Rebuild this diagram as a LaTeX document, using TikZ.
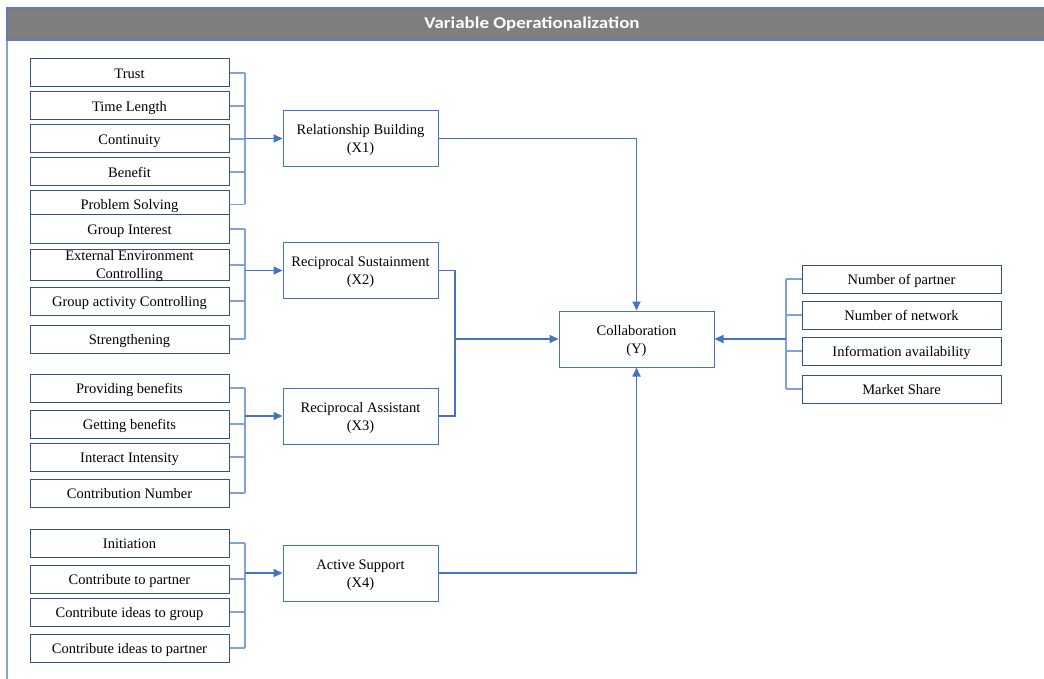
\documentclass[tikz,border=0pt]{standalone}
\usepackage{fontspec}
\setmainfont{Liberation Serif}
\newfontfamily\titlefont[FakeStretch=1.15]{Carlito}
\usetikzlibrary{arrows.meta}
\definecolor{boxdark}{RGB}{52,84,128}
\definecolor{midblue}{RGB}{68,114,196}
\definecolor{lightblue}{RGB}{130,160,218}
\definecolor{titlegray}{RGB}{127,127,127}
\definecolor{titleedge}{RGB}{96,124,176}
\definecolor{frameline}{RGB}{140,162,200}
\tikzset{
  item/.style={draw=boxdark, line width=1pt, fill=white, minimum width=199pt, minimum height=28pt, inner sep=0pt, font=\fontsize{14.5}{16}\selectfont, align=center, text height=12pt, text depth=1.5pt},
  twoline/.style={font=\fontsize{14.5}{18}\selectfont, text height=29pt, text depth=2pt},
  factor/.style={draw=midblue, line width=1pt, fill=white, minimum width=155pt, minimum height=56pt, inner sep=0pt, font=\fontsize{14.5}{18}\selectfont, align=center, text height=30pt, text depth=2pt},
  brk/.style={draw=lightblue, line width=1.3pt},
  conn/.style={draw=midblue, line width=1.3pt},
  arr/.style={draw=midblue, line width=1.7pt, -{Triangle[length=9pt,width=8pt]}},
}
\begin{document}
\begin{tikzpicture}[x=1pt,y=-1pt]
\useasboundingbox (0,0) rectangle (1044,679);
% title bar and frame
\draw[frameline, line width=1.2pt] (7,40) -- (7,679);
\fill[titlegray] (7,8) rectangle (1044,40);
\draw[titleedge, line width=1.5pt] (1044,8) -- (7,8) -- (7,40) -- (1044,40);
\node[text=white, font=\titlefont\bfseries\fontsize{16.5}{18}\selectfont] (title) at (532,24) {Variable Operationalization};

% left items group 1
\node[item] (a1) at (129.5,73) {Trust};
\node[item] (a2) at (129.5,106) {Time Length};
\node[item] (a3) at (129.5,139) {Continuity};
\node[item] (a4) at (129.5,172) {Benefit};
\node[item] (a5) at (129.5,204.5) {Problem Solving};
% group 2
\node[item] (b1) at (129.5,229) {Group Interest};
\node[item, twoline] (b2) at (129.5,265) {External Environment\\Controlling};
\node[item] (b3) at (129.5,301) {Group activity Controlling};
\node[item] (b4) at (129.5,339) {Strengthening};
% group 3
\node[item] (c1) at (129.5,388) {Providing benefits};
\node[item] (c2) at (129.5,424) {Getting benefits};
\node[item] (c3) at (129.5,457) {Interact Intensity};
\node[item] (c4) at (129.5,493) {Contribution Number};
% group 4
\node[item] (d1) at (129.5,543) {Initiation};
\node[item] (d2) at (129.5,579) {Contribute to partner};
\node[item] (d3) at (129.5,612) {Contribute ideas to group};
\node[item] (d4) at (129.5,648) {Contribute ideas to partner};

% factors
\node[factor] (x1) at (360.5,138.5) {Relationship Building\\(X1)};
\node[factor] (x2) at (360.5,270.5) {Reciprocal Sustainment\\(X2)};
\node[factor] (x3) at (360.5,416) {Reciprocal Assistant\\(X3)};
\node[factor] (x4) at (360.5,573) {Active Support\\(X4)};
\node[factor] (y) at (636.5,339) {Collaboration\\(Y)};

% right items
\node[item] (r1) at (901.5,279) {Number of partner};
\node[item] (r2) at (901.5,315) {Number of network};
\node[item] (r3) at (901.5,351) {Information availability};
\node[item] (r4) at (901.5,389) {Market Share};

% bracket coordinates
\coordinate (bx) at (245,0);
\coordinate (rx) at (786,0);
\coordinate (mx) at (455,0);

% group 1 bracket
\foreach \n in {a1,a2,a3,a4,a5} { \draw[brk] (\n.east) -- (\n.east -| bx); }
\draw[brk] (a1.east -| bx) -- (a5.east -| bx);
\draw[arr] (x1.west -| bx) -- (x1.west);
% group 2
\foreach \n in {b1,b2,b3,b4} { \draw[brk] (\n.east) -- (\n.east -| bx); }
\draw[brk] (b1.east -| bx) -- (b4.east -| bx);
\draw[arr] (x2.west -| bx) -- (x2.west);
% group 3
\foreach \n in {c1,c2,c3,c4} { \draw[brk] (\n.east) -- (\n.east -| bx); }
\draw[brk] (c1.east -| bx) -- (c4.east -| bx);
\draw[arr] (x3.west -| bx) -- (x3.west);
% group 4
\foreach \n in {d1,d2,d3,d4} { \draw[brk] (\n.east) -- (\n.east -| bx); }
\draw[brk] (d1.east -| bx) -- (d4.east -| bx);
\draw[arr] (x4.west -| bx) -- (x4.west);

% right bracket
\foreach \n in {r1,r2,r3,r4} { \draw[brk] (\n.west) -- (\n.west -| rx); }
\draw[brk] (r1.west -| rx) -- (r4.west -| rx);
\draw[arr] (y.east -| rx) -- (y.east);

% factors to Y
\draw[conn] (x1.east) -- (x1.east -| y.north);
\draw[arr] (x1.east -| y.north) -- (y.north);
\draw[conn] (x4.east) -- (x4.east -| y.south);
\draw[arr] (x4.east -| y.south) -- (y.south);
\draw[conn] (x2.east) -- (x2.east -| mx) -- (x3.east -| mx) -- (x3.east);
\draw[arr] (y.west -| mx) -- (y.west);
\end{tikzpicture}
\end{document}
